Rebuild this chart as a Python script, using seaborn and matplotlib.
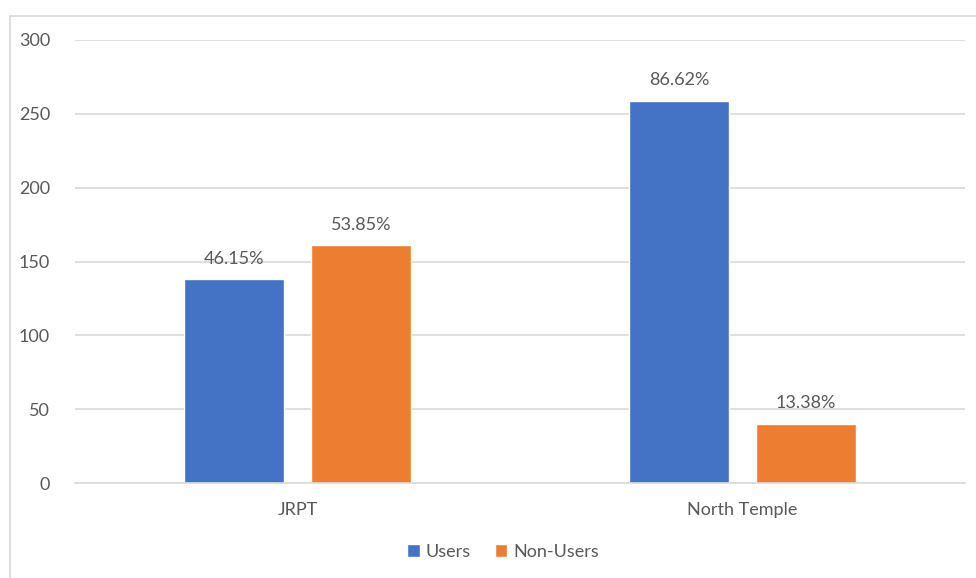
import pandas as pd
import numpy as np
import matplotlib.pyplot as plt
import seaborn as sns
from matplotlib.lines import Line2D

# data
stations = ['JRPT', 'North Temple']
groups = ['Users', 'Non-Users']
users = [138, 259]
non_users = [161, 40]
pct_labels = [['46.15%', '86.62%'], ['53.85%', '13.38%']]

df = pd.DataFrame({
    'station': stations * 2,
    'group': [groups[0]] * 2 + [groups[1]] * 2,
    'count': users + non_users,
})

sns.set_theme(style='white')
plt.rcParams['font.family'] = ['Lato', 'DejaVu Sans']
grey = '#595959'

fig = plt.figure(figsize=(9.76, 5.78), dpi=100)
W, H = 976, 578
ax = fig.add_axes([75 / W, (H - 483) / H, (965 - 75) / W, (483 - 40) / H])

sns.barplot(data=df, x='station', y='count', hue='group', order=stations,
            hue_order=groups, palette=['#4472C4', '#ED7D31'],
            width=0.571, gap=0.213, saturation=1, ax=ax, legend=True)

ax.set_xlim(-0.5, 1.5)
ax.set_ylim(0, 300)
ax.set_yticks(np.arange(0, 301, 50))
ax.yaxis.grid(True, color='#D9D9D9', linewidth=1.2)
ax.set_axisbelow(True)
for s in ['top', 'right', 'left']:
    ax.spines[s].set_visible(False)
ax.spines['bottom'].set_color('#D9D9D9')
ax.spines['bottom'].set_linewidth(1.2)
ax.tick_params(axis='both', length=0, labelsize=13, colors=grey)
ax.tick_params(axis='y', pad=18)
ax.tick_params(axis='x', pad=14)
ax.set_xlabel('')
ax.set_ylabel('')

for i, cont in enumerate(ax.containers):
    ax.bar_label(cont, labels=pct_labels[i], padding=9, fontsize=13, color=grey)

leg = ax.legend(loc='center', bbox_to_anchor=(0.481, -0.155), ncol=2, frameon=False,
                fontsize=13, handlelength=0.7, handleheight=0.7, handletextpad=0.35,
                columnspacing=1.3, labelcolor=grey)

# chart border (cropped at right and bottom)
fig.add_artist(Line2D([10 / W, 10 / W], [0, (H - 16) / H], color='#D9D9D9', linewidth=1.2))
fig.add_artist(Line2D([10 / W, 1], [(H - 16) / H, (H - 16) / H], color='#D9D9D9', linewidth=1.2))

fig.savefig('out.png', dpi=100)
